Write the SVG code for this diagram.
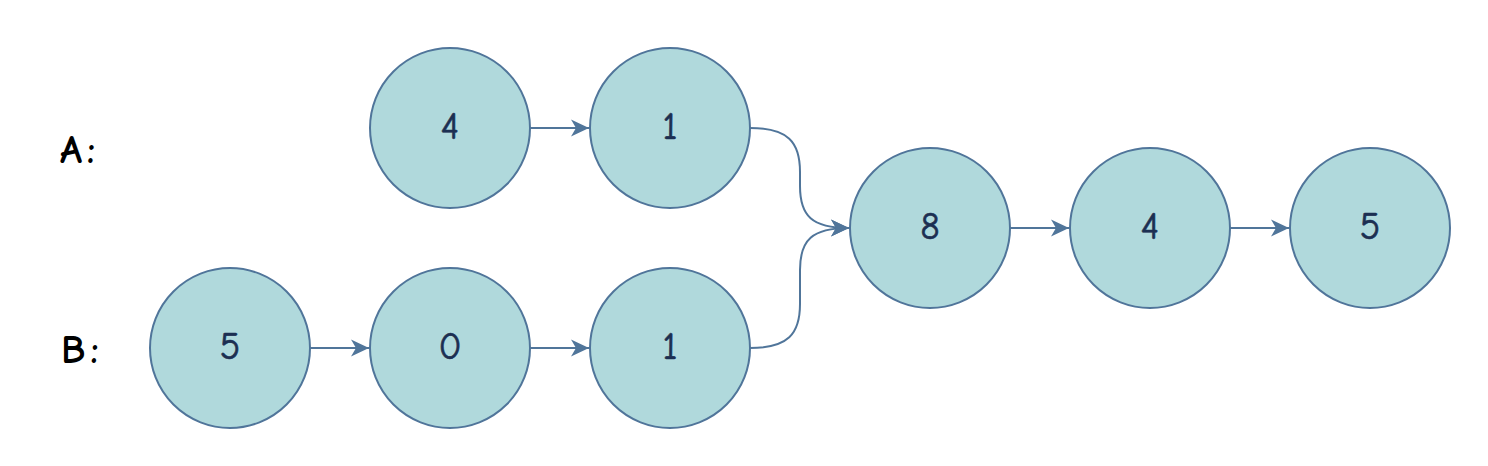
<svg xmlns="http://www.w3.org/2000/svg" width="1488" height="466" viewBox="0 0 1488 466">
<style>
.node circle{fill:#b0d9dc;stroke:#50759a;stroke-width:2}
.node text{font-family:"Comic Sans MS","Comic Neue","Liberation Sans",sans-serif;font-size:38px;font-weight:normal;fill:#1c2f52;stroke:#1c2f52;stroke-width:0.6;text-anchor:middle}
.lbl{font-family:"Comic Sans MS","Comic Neue","Liberation Sans",sans-serif;font-size:40px;font-weight:bold;fill:#000;letter-spacing:5px}
.edge{fill:none;stroke:#50759a;stroke-width:2;marker-end:url(#arr)}
</style>
<defs>
<marker id="arr" markerUnits="userSpaceOnUse" markerWidth="20" markerHeight="20" viewBox="-19 -10 20 20" refX="0" refY="0" orient="auto">
<path d="M0,0 L-18,-8.5 L-13,0 L-18,8.5 Z" fill="#50759a"/>
</marker>
</defs>
<rect width="1488" height="466" fill="#fff"/>
<text class="lbl" x="60" y="163">A:</text>
<text class="lbl" x="61" y="363">B:</text>
<g id="connectors">
<path class="edge" d="M530,128 L589,128"/>
<path class="edge" d="M310,348 L369,348"/>
<path class="edge" d="M530,348 L589,348"/>
<path class="edge" d="M1010,228 L1069,228"/>
<path class="edge" d="M1230,228 L1289,228"/>
<path class="edge" d="M750,128 C788,128 800,142 800,172 L800,186 C800,216 812,228 849,228"/>
<path class="edge" d="M750,348 C788,348 800,334 800,304 L800,270 C800,240 812,228 849,228"/>
</g>
<g id="a1" class="node"><circle cx="450" cy="128" r="80"/><text x="450" y="139">4</text></g>
<g id="a2" class="node"><circle cx="670" cy="128" r="80"/><text x="670" y="139">1</text></g>
<g id="c1" class="node"><circle cx="930" cy="228" r="80"/><text x="930" y="239">8</text></g>
<g id="c2" class="node"><circle cx="1150" cy="228" r="80"/><text x="1150" y="239">4</text></g>
<g id="c3" class="node"><circle cx="1370" cy="228" r="80"/><text x="1370" y="239">5</text></g>
<g id="b1" class="node"><circle cx="230" cy="348" r="80"/><text x="230" y="359">5</text></g>
<g id="b2" class="node"><circle cx="450" cy="348" r="80"/><text x="450" y="359">0</text></g>
<g id="b3" class="node"><circle cx="670" cy="348" r="80"/><text x="670" y="359">1</text></g>
</svg>
